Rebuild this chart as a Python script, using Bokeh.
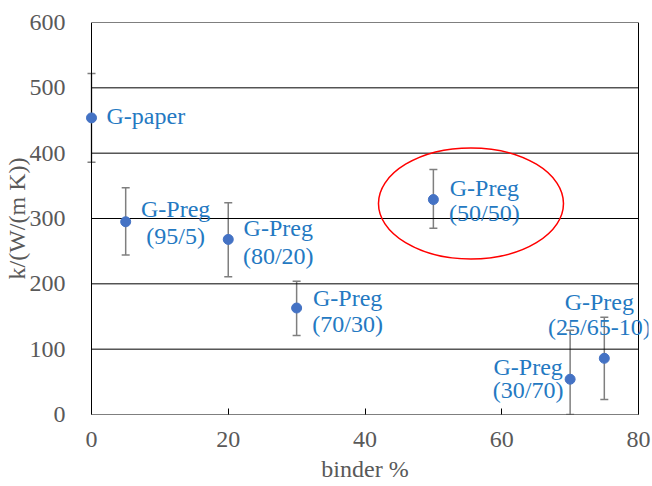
from bokeh.plotting import figure
from bokeh.models import ColumnDataSource, Whisker, TeeHead, Label, Range1d, FixedTicker
from bokeh.embed import file_html
from bokeh.resources import INLINE

# ---- data ----
binder = [0, 5, 20, 30, 50, 70, 75]
k_val = [454, 295, 268, 163, 329, 54, 86]
k_low = [386, 244, 211, 121, 285, 0, 23]
k_high = [522, 347, 324, 204, 375, 129, 149]
names = ["G-paper", "G-Preg", "G-Preg", "G-Preg", "G-Preg", "G-Preg", "G-Preg"]
ratios = ["", "(95/5)", "(80/20)", "(70/30)", "(50/50)", "(30/70)", "(25/65-10)"]
x_ticks = [0, 20, 40, 60, 80]
y_ticks = [0, 100, 200, 300, 400, 500, 600]
highlight_x = [55.5]
highlight_y = [323]

# ---- label layout (screen offsets, downward positive) ----
dx = [15, 50, 50, 51, 51, -42, -5]
dy1 = [-2, -13, -11, -10, -12, -12, -56]
dy2 = [0, 14, 17, 16, 13, 11, -31]
align = ["left", "center", "center", "center", "center", "center", "center"]

FONT = "Liberation Serif"
GRAY = "#595959"
BLUE = "#2479c2"
PAD = 10 / 6.8375  # frame padding so marks at 0 and 80 are not clipped

p = figure(width=652, height=486, output_backend="svg", toolbar_location=None,
           x_range=Range1d(x_ticks[0] - PAD, x_ticks[-1] + PAD),
           y_range=Range1d(y_ticks[0], y_ticks[-1]))
p.min_border_left = 81
p.min_border_right = 4
p.min_border_top = 22
p.min_border_bottom = 72
p.outline_line_color = None
p.background_fill_color = "white"
p.border_fill_color = "white"
p.xgrid.visible = False
p.ygrid.visible = False

p.xaxis.ticker = FixedTicker(ticks=x_ticks)
p.yaxis.ticker = FixedTicker(ticks=y_ticks)
for ax in (p.xaxis[0], p.yaxis[0]):
    ax.axis_line_color = None
    ax.major_label_text_font = FONT
    ax.major_label_text_font_size = "24px"
    ax.major_label_text_color = GRAY
    ax.axis_label_text_font = FONT
    ax.axis_label_text_font_size = "24px"
    ax.axis_label_text_color = GRAY
    ax.axis_label_text_font_style = "normal"
    ax.minor_tick_line_color = None
p.xaxis.major_tick_in = 6
p.xaxis.major_tick_out = 0
p.xaxis.major_tick_line_color = "black"
p.yaxis.major_tick_line_color = None
p.xaxis.major_label_standoff = 17
p.yaxis.major_label_standoff = 10
p.xaxis.axis_label = "binder %"
p.yaxis.axis_label = "k/(W/(m K))"
p.xaxis.axis_label_standoff = 6
p.yaxis.axis_label_standoff = -3

# frame and grid lines, drawn only across the data extent
x0, x1 = x_ticks[0], x_ticks[-1]
p.segment(x0=[x0] * len(y_ticks), x1=[x1] * len(y_ticks), y0=y_ticks, y1=y_ticks,
          line_color="black", line_width=1)
p.segment(x0=[x0, x1], x1=[x0, x1], y0=[y_ticks[0]] * 2, y1=[y_ticks[-1]] * 2,
          line_color="black", line_width=1)

src = ColumnDataSource(dict(x=binder, y=k_val, lo=k_low, hi=k_high))

p.ellipse(x=highlight_x, y=highlight_y, width=185, height=111,
          width_units="screen", height_units="screen",
          fill_color=None, line_color="red", line_width=1.5)

p.add_layout(Whisker(source=src, base="x", lower="lo", upper="hi", dimension="height",
                     line_color="#7f7f7f", line_width=1.5,
                     upper_head=TeeHead(size=8, line_color="#7f7f7f", line_width=1.5),
                     lower_head=TeeHead(size=8, line_color="#7f7f7f", line_width=1.5)))

p.scatter(x="x", y="y", source=src, size=10, fill_color="#4472c4", line_color="#4472c4")

for i in range(len(binder)):
    p.add_layout(Label(x=binder[i], y=k_val[i], text=names[i], x_offset=dx[i], y_offset=-dy1[i],
                       text_align=align[i], text_baseline="middle",
                       text_font=FONT, text_font_size="24px", text_color=BLUE))
    if ratios[i]:
        p.add_layout(Label(x=binder[i], y=k_val[i], text=ratios[i], x_offset=dx[i], y_offset=-dy2[i],
                           text_align=align[i], text_baseline="middle",
                           text_font=FONT, text_font_size="24px", text_color=BLUE))

open("out.html", "w").write(file_html(p, INLINE))
